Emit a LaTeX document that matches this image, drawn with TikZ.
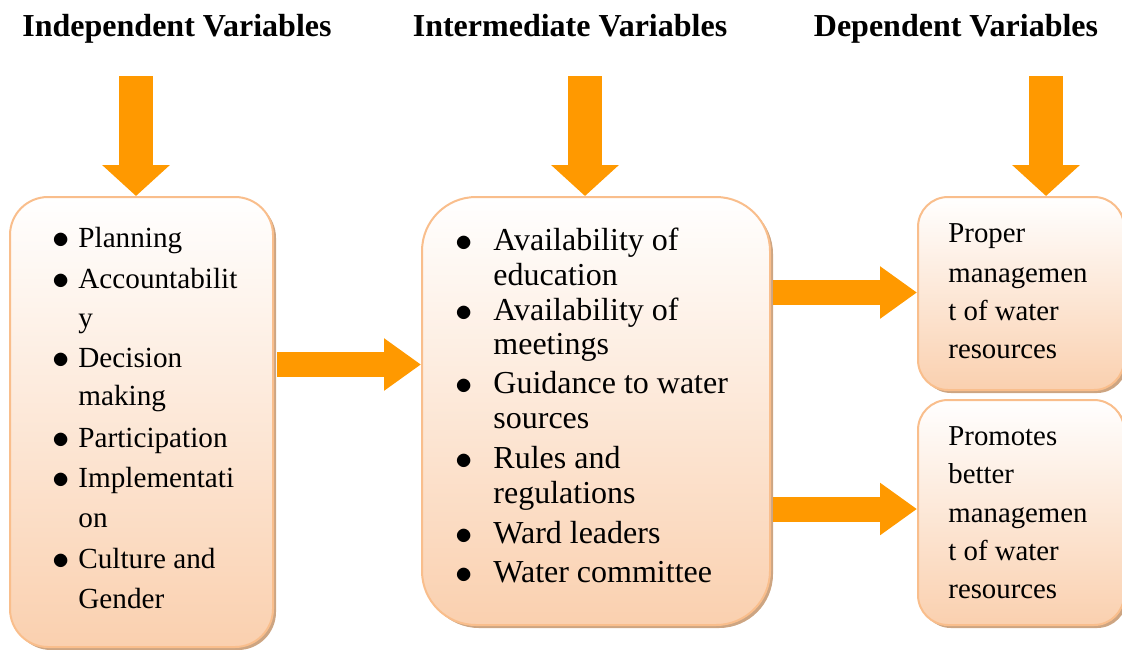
\documentclass[tikz,border=0pt]{standalone}
\usepackage{fontspec}
\setmainfont{Liberation Serif}
\usetikzlibrary{positioning,shadows,arrows.meta}

\definecolor{arroworange}{RGB}{255,153,0}
\definecolor{boxline}{RGB}{249,190,140}
\definecolor{boxfill}{RGB}{250,208,175}
\definecolor{boxshadow}{RGB}{205,165,130}

\tikzset{
  varbox/.style={draw=boxline, line width=1pt, top color=white, bottom color=boxfill,
    drop shadow={shadow xshift=1.5pt, shadow yshift=-1.5pt, fill=boxshadow, opacity=1},
    inner sep=0pt},
  head/.style={font=\bfseries\fontsize{16}{19}\selectfont, anchor=base},
  ltxt/.style={font=\fontsize{14.6}{17}\selectfont, anchor=base west, inner sep=0pt},
  mtxt/.style={font=\fontsize{16}{19}\selectfont, anchor=base west, inner sep=0pt},
  rtxt/.style={font=\fontsize{14.4}{17}\selectfont, anchor=base west, inner sep=0pt},
  bul/.style={anchor=base, inner sep=0pt, font=\fontsize{17}{19}\selectfont},
  downarrow/.style={draw=arroworange, line width=17pt,
    -{Triangle[width=33pt, length=15.5pt]}},
  sidearrow/.style={draw=arroworange, line width=12.5pt,
    -{Triangle[width=25pt, length=18.5pt]}}
}

\begin{document}
\begin{tikzpicture}[x=0.5pt, y=-0.5pt]
\useasboundingbox (0,0) rectangle (1122,649);

% headings
\node[head] (h1) at (177,36) {Independent Variables};
\node[head] (h2) at (570,36) {Intermediate Variables};
\node[head] (h3) at (956,36) {Dependent Variables};

% boxes
\node[varbox, rounded corners=19pt, minimum width=131.5pt, minimum height=225pt] (lbox) at (141.5,422) {};
\node[varbox, rounded corners=27pt, minimum width=174pt, minimum height=214pt] (mbox) at (596,411) {};
\node[varbox, rounded corners=15pt, minimum width=103pt, minimum height=96.5pt] (rbox1) at (1021,293.5) {};
\node[varbox, rounded corners=15pt, minimum width=103pt, minimum height=112.5pt] (rbox2) at (1021,512.5) {};

% independent
\node[bul] (lb1) at (61,248) {$\bullet$};
\node[ltxt] (l1) at (78,247) {Planning};
\node[bul] (lb2) at (61,289) {$\bullet$};
\node[ltxt] (l2) at (78,288) {Accountabilit};
\node[ltxt] (l3) at (78,327) {y};
\node[bul] (lb3) at (61,368) {$\bullet$};
\node[ltxt] (l4) at (78,367) {Decision};
\node[ltxt] (l5) at (78,405) {making};
\node[bul] (lb4) at (61,448) {$\bullet$};
\node[ltxt] (l6) at (78,447) {Participation};
\node[bul] (lb5) at (61,488) {$\bullet$};
\node[ltxt] (l7) at (78,487) {Implementati};
\node[ltxt] (l8) at (78,527) {on};
\node[bul] (lb6) at (61,569) {$\bullet$};
\node[ltxt] (l9) at (78,568) {Culture and};
\node[ltxt] (l10) at (78,608) {Gender};

% intermediate
\node[bul] (mb1) at (464,251) {$\bullet$};
\node[mtxt] (m1) at (493,250) {Availability of};
\node[mtxt] (m2) at (493,285) {education};
\node[bul] (mb2) at (464,321) {$\bullet$};
\node[mtxt] (m3) at (493,320) {Availability of};
\node[mtxt] (m4) at (493,354) {meetings};
\node[bul] (mb3) at (464,394) {$\bullet$};
\node[mtxt] (m5) at (493,393) {Guidance to water};
\node[mtxt] (m6) at (493,428) {sources};
\node[bul] (mb4) at (464,469) {$\bullet$};
\node[mtxt] (m7) at (493,468) {Rules and};
\node[mtxt] (m8) at (493,503) {regulations};
\node[bul] (mb5) at (464,544) {$\bullet$};
\node[mtxt] (m9) at (493,543) {Ward leaders};
\node[bul] (mb6) at (464,583) {$\bullet$};
\node[mtxt] (m10) at (493,582) {Water committee};

% dependent
\node[rtxt] (r1) at (948,242) {Proper};
\node[rtxt] (r2) at (948,282) {managemen};
\node[rtxt] (r3) at (948,320) {t of water};
\node[rtxt] (r4) at (948,358) {resources};

\node[rtxt] (s1) at (948,445) {Promotes};
\node[rtxt] (s2) at (948,483) {better};
\node[rtxt] (s3) at (948,522) {managemen};
\node[rtxt] (s4) at (948,560) {t of water};
\node[rtxt] (s5) at (948,598) {resources};

% arrows
\coordinate (d1) at (136,76);
\coordinate (d2) at (585,76);
\coordinate (d3) at (1046,76);
\draw[downarrow] (d1) -- (d1 |- lbox.north);
\draw[downarrow] (d2) -- (d2 |- mbox.north);
\draw[downarrow] (d3) -- (d3 |- rbox1.north);

\coordinate (e1) at (277,364.5);
\coordinate (e2) at (773,292.5);
\coordinate (e3) at (773,509);
\draw[sidearrow] (e1) -- (e1 -| mbox.west);
\draw[sidearrow] (e2) -- (e2 -| rbox1.west);
\draw[sidearrow] (e3) -- (e3 -| rbox2.west);

\end{tikzpicture}
\end{document}
